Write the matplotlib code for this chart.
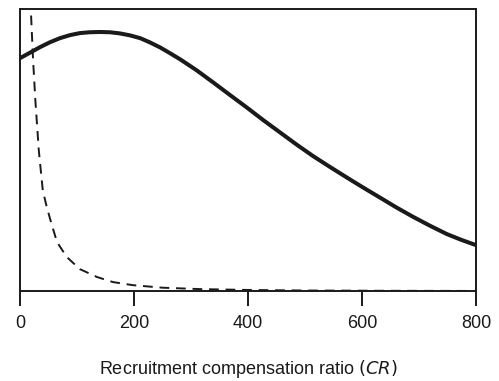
import matplotlib.pyplot as plt

# Werte
cr_solid = [0, 18, 35, 52, 70, 88, 105, 122, 140, 158, 175, 193, 211, 228, 246, 263, 281, 310, 339,
            368, 398, 427, 456, 485, 514, 544, 574, 603, 632, 660, 689, 719, 749, 775, 800]
y_solid = [0.826, 0.846, 0.865, 0.882, 0.897, 0.908, 0.915, 0.918, 0.919, 0.918, 0.914, 0.907, 0.897, 0.882,
           0.864, 0.844, 0.822, 0.783, 0.740, 0.696, 0.651, 0.606, 0.563, 0.520, 0.479, 0.440, 0.402,
           0.366, 0.331, 0.297, 0.264, 0.232, 0.202, 0.181, 0.163]

cr_dashed = [12, 15, 19, 23, 27, 33, 40, 47, 56, 65, 82, 105, 135, 163, 198, 250, 316, 400, 500, 650, 800]
y_dashed = [1.6, 1.3, 1.0, 0.82, 0.677, 0.50, 0.358, 0.298, 0.234, 0.174, 0.121, 0.078, 0.050, 0.032, 0.021, 0.012, 0.007, 0.004, 0.002, 0.001, 0.0005]

plt.rcParams["font.family"] = ["Liberation Sans", "DejaVu Sans"]
plt.rcParams["mathtext.fontset"] = "dejavusans"

fig = plt.figure(figsize=(4.99, 3.81), dpi=100)
ax = fig.add_axes([0.040, 0.236, 0.914, 0.740])

ax.plot(cr_solid, y_solid, color="#1a1a1a", lw=2.9, solid_capstyle="butt", solid_joinstyle="round")
ax.plot(cr_dashed, y_dashed, color="#1a1a1a", lw=1.4, dashes=(5, 3.5))

ax.set_xlim(0, 800)
ax.set_ylim(0, 1)
ax.set_xticks([0, 200, 400, 600, 800])
ax.set_yticks([])
ax.tick_params(axis="x", direction="out", length=11, width=1.4, pad=6, labelsize=13, colors="#1a1a1a")
for s in ax.spines.values():
    s.set_linewidth(1.4)
    s.set_color("#1a1a1a")

ax.set_xlabel(r"Recruitment compensation ratio $(CR)$", fontsize=13, labelpad=19, color="#1a1a1a")

fig.savefig("out.png", dpi=100)
